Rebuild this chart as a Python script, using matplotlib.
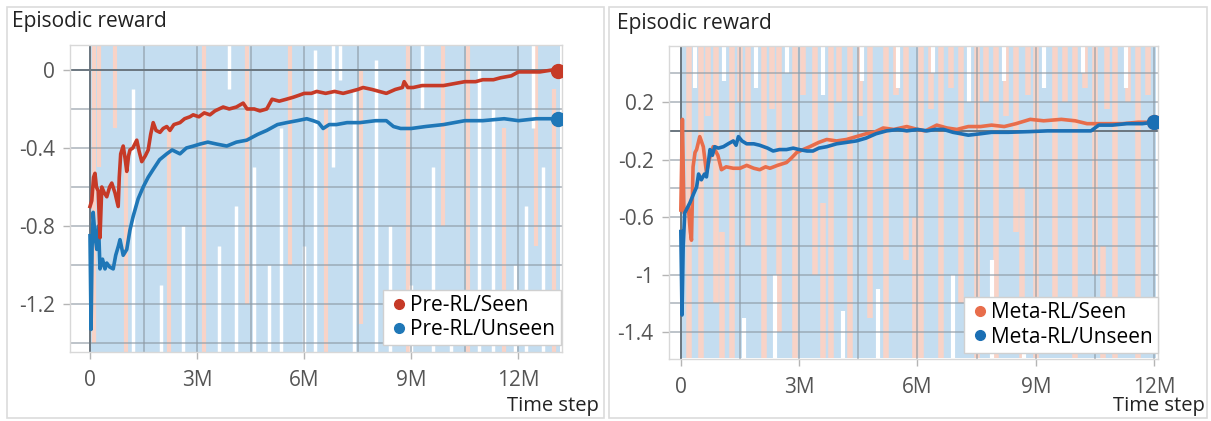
import numpy as np
import matplotlib
matplotlib.use("Agg")
import matplotlib.pyplot as plt
from matplotlib.patches import Rectangle

plt.rcParams['font.family'] = ['Open Sans', 'DejaVu Sans']

# ---- smoothed curves (x in millions of steps, episodic reward) ----
pre_seen = [(0.0,-0.70),(0.05,-0.67),(0.1,-0.55),(0.14,-0.53),(0.18,-0.60),(0.23,-0.62),(0.28,-0.86),
            (0.33,-0.60),(0.4,-0.63),(0.47,-0.65),(0.55,-0.60),(0.61,-0.58),(0.7,-0.63),(0.79,-0.70),
            (0.82,-0.55),(0.86,-0.43),(0.93,-0.39),(0.98,-0.45),(1.03,-0.52),(1.08,-0.44),(1.12,-0.41),
            (1.2,-0.40),(1.31,-0.36),(1.38,-0.42),(1.45,-0.47),(1.55,-0.44),(1.63,-0.41),(1.7,-0.33),
            (1.77,-0.27),(1.85,-0.31),(1.96,-0.32),(2.05,-0.30),(2.15,-0.29),(2.24,-0.31),(2.35,-0.28),
            (2.52,-0.27),(2.65,-0.25),(2.8,-0.24),(2.89,-0.23),(3.05,-0.24),(3.2,-0.22),(3.36,-0.23),
            (3.5,-0.21),(3.73,-0.19),(3.9,-0.20),(4.1,-0.19),(4.29,-0.17),(4.4,-0.20),(4.6,-0.20),
            (4.76,-0.21),(4.95,-0.20),(5.1,-0.15),(5.3,-0.16),(5.5,-0.15),(5.69,-0.14),(5.85,-0.13),
            (6.0,-0.12),(6.2,-0.12),(6.35,-0.11),(6.6,-0.12),(6.85,-0.11),(7.09,-0.12),(7.3,-0.11),
            (7.5,-0.10),(7.65,-0.09),(7.9,-0.10),(8.1,-0.11),(8.3,-0.12),(8.55,-0.10),(8.75,-0.09),
            (8.8,-0.06),(8.9,-0.09),(9.05,-0.09),(9.3,-0.08),(9.6,-0.08),(9.9,-0.08),(10.2,-0.07),
            (10.5,-0.06),(10.8,-0.06),(11.0,-0.05),(11.3,-0.05),(11.5,-0.04),(11.8,-0.03),(12.0,-0.01),
            (12.3,-0.01),(12.6,-0.01),(12.95,0.0),(13.1,-0.005)]
pre_unseen = [(0.0,-0.85),(0.03,-1.33),(0.06,-0.90),(0.09,-0.73),(0.14,-0.85),(0.19,-0.92),(0.24,-0.80),
              (0.28,-1.02),(0.35,-0.97),(0.42,-1.02),(0.47,-0.99),(0.55,-1.01),(0.65,-1.02),(0.72,-0.95),
              (0.8,-0.90),(0.84,-0.87),(0.93,-0.95),(1.03,-0.92),(1.12,-0.82),(1.21,-0.75),(1.35,-0.66),
              (1.49,-0.60),(1.63,-0.55),(1.77,-0.51),(1.95,-0.46),(2.15,-0.43),(2.3,-0.41),(2.52,-0.43),
              (2.7,-0.40),(2.9,-0.39),(3.08,-0.38),(3.3,-0.37),(3.55,-0.38),(3.83,-0.39),(4.1,-0.37),
              (4.39,-0.36),(4.7,-0.33),(4.95,-0.31),(5.25,-0.28),(5.51,-0.27),(5.8,-0.26),(6.07,-0.25),
              (6.25,-0.26),(6.4,-0.27),(6.53,-0.30),(6.7,-0.28),(6.9,-0.28),(7.2,-0.27),(7.56,-0.27),
              (8.0,-0.26),(8.3,-0.26),(8.5,-0.29),(8.7,-0.30),(9.0,-0.30),(9.4,-0.29),(9.9,-0.28),
              (10.2,-0.27),(10.5,-0.26),(11.0,-0.26),(11.6,-0.25),(12.0,-0.26),(12.5,-0.25),
              (12.95,-0.25),(13.1,-0.25)]
meta_seen = [(0.0,-0.55),(0.04,0.08),(0.08,-0.57),(0.14,-0.55),(0.19,-0.53),(0.24,-0.70),(0.27,-0.76),
             (0.31,-0.25),(0.36,-0.15),(0.40,-0.13),(0.48,-0.04),(0.57,-0.11),(0.65,-0.29),(0.72,-0.20),
             (0.82,-0.11),(0.94,-0.17),(1.03,-0.27),(1.15,-0.25),(1.33,-0.26),(1.5,-0.26),(1.67,-0.24),
             (1.85,-0.26),(2.0,-0.27),(2.15,-0.25),(2.26,-0.26),(2.45,-0.24),(2.68,-0.22),(2.8,-0.19),
             (2.94,-0.15),(3.1,-0.13),(3.27,-0.11),(3.5,-0.08),(3.7,-0.06),(3.95,-0.07),(4.2,-0.06),
             (4.45,-0.04),(4.7,-0.02),(4.9,-0.01),(5.13,0.02),(5.4,0.01),(5.73,0.03),(6.0,0.01),
             (6.2,0.0),(6.49,0.04),(6.75,0.02),(7.0,0.01),(7.29,0.03),(7.6,0.03),(7.88,0.04),(8.2,0.03),
             (8.5,0.05),(8.86,0.08),(9.2,0.07),(9.65,0.08),(10.0,0.07),(10.3,0.05),(10.8,0.05),
             (11.2,0.05),(11.6,0.06),(12.0,0.06)]
meta_unseen = [(0.0,-0.70),(0.03,-1.28),(0.06,-0.80),(0.1,-0.57),(0.23,-0.50),(0.32,-0.44),(0.40,-0.39),
               (0.45,-0.30),(0.52,-0.34),(0.6,-0.30),(0.65,-0.32),(0.74,-0.13),(0.8,-0.17),(0.86,-0.11),
               (0.95,-0.12),(1.08,-0.11),(1.2,-0.09),(1.33,-0.07),(1.4,-0.10),(1.46,-0.04),(1.55,-0.07),
               (1.67,-0.09),(1.85,-0.09),(2.0,-0.10),(2.2,-0.12),(2.34,-0.14),(2.5,-0.13),(2.68,-0.13),
               (2.85,-0.12),(3.0,-0.13),(3.2,-0.14),(3.35,-0.14),(3.5,-0.12),(3.7,-0.11),(3.95,-0.09),
               (4.2,-0.08),(4.45,-0.07),(4.7,-0.05),(4.95,-0.02),(5.22,0.0),(5.5,0.01),(5.73,0.0),
               (6.0,0.01),(6.24,0.0),(6.45,0.01),(6.66,0.01),(6.9,-0.01),(7.1,-0.02),(7.29,-0.03),
               (7.6,-0.02),(7.88,-0.01),(8.3,-0.01),(8.86,-0.005),(9.3,0.0),(9.8,0.0),(10.4,0.0),
               (10.6,0.04),(10.95,0.04),(11.3,0.05),(11.7,0.05),(12.0,0.06)]

# ---- raw (unsmoothed) traces, read as vertical streaks: (x, low, high) ----
pre_raw_extent = (0.0, 13.15, -1.45, 0.13)
pre_raw_white = [(1.2,-1.45,-0.1),(2.6,-1.45,-0.8),(3.6,-1.45,-0.9),(4.1,-1.45,-0.7),(4.6,-1.45,-0.5),
                 (5.35,-1.45,-0.3),(6.0,-1.45,-0.9),(6.3,-1.45,0.1),(7.4,-1.45,-0.1),(8.0,-1.45,0.05),
                 (8.4,-1.45,-0.8),(9.6,-1.45,-0.5),(10.1,-1.45,-1.2),(10.9,-1.45,0.0),(11.3,-1.45,-0.2),
                 (11.9,-1.45,-1.0),(12.7,-1.45,-0.5),(6.8,-0.5,0.13),(9.3,-0.2,0.13),(12.4,-0.3,0.13),
                 (3.9,-0.1,0.13),(7.0,-0.05,0.13),(2.0,-1.45,-1.1),(5.0,-1.45,-1.0),(9.0,-1.45,-1.1),
                 (12.2,-1.45,-0.7)]
pre_raw_pink = [(0.1,-1.4,0.13),(0.25,-0.5,0.13),(0.7,-0.3,0.13),(1.0,-1.45,-0.5),(2.2,-1.45,-0.3),
                (3.2,-1.45,0.13),(4.4,-1.2,0.13),(5.6,-1.0,0.13),(6.6,-1.45,-0.2),(7.6,-1.3,0.0),
                (8.9,-1.45,0.13),(9.9,-0.8,0.13),(10.6,-1.45,0.13),(11.6,-1.45,-0.3),(12.5,-0.9,0.13),
                (13.0,-1.45,-0.1)]
meta_raw_extent = (0.0, 12.05, -1.58, 0.59)
meta_raw_pink = [(0.2,-1.58,0.59),(0.5,-1.58,0.59),(0.9,-1.2,0.59),(1.3,-1.58,0.59),(1.7,-0.8,0.59),
                 (2.1,-1.58,0.59),(2.5,-1.4,0.59),(2.9,-1.58,0.59),(3.4,-1.0,0.59),(3.8,-1.58,0.59),
                 (4.3,-1.58,0.59),(4.8,-1.3,0.59),(5.2,-1.58,0.59),(5.7,-0.9,0.59),(6.1,-1.58,0.59),
                 (6.6,-1.58,0.59),(7.1,-1.2,0.59),(7.5,-1.58,0.59),(8.0,-1.58,0.59),(8.5,-0.7,0.59),
                 (9.0,-1.58,0.59),(9.5,-1.4,0.59),(10.0,-1.58,0.59),(10.5,-1.0,0.59),(11.0,-1.58,0.59),
                 (11.6,-1.58,0.59),(0.7,0.1,0.59),(1.5,0.2,0.59),(2.3,0.15,0.59),(3.1,0.25,0.59),
                 (4.0,0.2,0.59),(4.55,0.1,0.59),(5.45,0.25,0.59),(6.35,0.15,0.59),(6.85,0.3,0.59),
                 (7.75,0.2,0.59),(8.25,0.1,0.59),(8.8,0.25,0.59),(9.75,0.2,0.59),(10.25,0.3,0.59),
                 (10.8,0.15,0.59),(11.35,0.2,0.59),(11.85,0.25,0.59),(1.05,-1.58,-0.7),
                 (3.6,-1.58,-0.5),(5.95,-1.58,-0.6),(8.65,-1.58,-0.4),(10.7,-1.58,-0.8)]
meta_raw_white = [(0.35,0.3,0.59),(1.1,0.35,0.59),(1.9,0.3,0.59),(2.7,0.4,0.59),(3.6,0.25,0.59),
                  (4.6,0.35,0.59),(5.5,0.3,0.59),(6.4,0.4,0.59),(7.3,0.2,0.59),(8.2,0.35,0.59),
                  (9.2,0.3,0.59),(10.2,0.4,0.59),(11.3,0.3,0.59),(5.0,-1.58,-1.1),(8.7,-1.58,-1.2),
                  (1.6,-1.58,-1.3),(6.9,-1.58,-1.0),(2.4,-1.58,-1.0),(4.1,-1.58,-1.25),
                  (7.9,-1.58,-0.9)]

x_ticks = [0, 3, 6, 9, 12]
x_labels = ['0', '3M', '6M', '9M', '12M']
pre_yticks = [0, -0.4, -0.8, -1.2]
meta_yticks = [0.2, -0.2, -0.6, -1, -1.4]

raw_blue = '#c4ddf0'
raw_pink = '#f8d3c7'
grid_c = '#8e9aa4'
tick_c = '#555555'

fig = plt.figure(figsize=(12.11, 4.21), dpi=100)
W, H = 1211.0, 421.0

# panel frames
for x0, x1 in [(7, 604), (609, 1207)]:
    fig.patches.append(Rectangle((x0 / W, 1 - 418 / H), (x1 - x0) / W, 411 / H,
                                 transform=fig.transFigure, fill=False,
                                 edgecolor='#dcdcdc', linewidth=1.2))


def setup(ax, xlim, ylim, yticks, ygrid, xgrid):
    ax.set_xlim(*xlim)
    ax.set_ylim(*ylim)
    ax.set_xticks(x_ticks)
    ax.set_xticklabels(x_labels)
    ax.set_yticks(yticks)
    ax.set_yticklabels([('%g' % v) for v in yticks])
    for s in ax.spines.values():
        s.set_color('#d8d8d8')
        s.set_linewidth(1.0)
    ax.tick_params(axis='both', length=5, width=1.0, color='#b5b5b5',
                   labelsize=15, labelcolor=tick_c)
    ax.tick_params(axis='x', pad=8)
    ax.tick_params(axis='y', pad=6)
    for g in ygrid:
        ax.axhline(g, color=grid_c, lw=1.1, alpha=0.75, zorder=2)
    for g in xgrid:
        ax.axvline(g, color=grid_c, lw=1.1, alpha=0.75, zorder=2)
    ax.axhline(0, color='#6a767f', lw=1.4, zorder=2.1)
    ax.axvline(0, color='#6a767f', lw=1.4, zorder=2.1)


def draw_raw(ax, extent, pinks, whites, lw_p, lw_w):
    x0, x1, y0, y1 = extent
    ax.fill_between([x0, x1], [y0, y0], [y1, y1], color=raw_blue, lw=0, zorder=1)
    for x, lo, hi in pinks:
        ax.vlines(x, lo, hi, color=raw_pink, lw=lw_p, zorder=1.2)
    for x, lo, hi in whites:
        ax.vlines(x, lo, hi, color='white', lw=lw_w, zorder=1.3)


# ---- left: Pre-RL ----
ax1 = fig.add_axes([70 / W, 1 - 352 / H, 492 / W, 307 / H])
setup(ax1, (-0.56, 13.22), (-1.446, 0.128), pre_yticks,
      [-1.4, -1.2, -1.0, -0.8, -0.6, -0.4, -0.2], np.arange(1.5, 13.5, 1.5))
draw_raw(ax1, pre_raw_extent, pre_raw_pink, pre_raw_white, 3, 2.5)
red, blue1 = '#c63a27', '#1f77b7'
ps = np.array(pre_seen).T
pu = np.array(pre_unseen).T
ax1.plot(pu[0], pu[1], color=blue1, lw=2.6, zorder=3)
ax1.plot(ps[0], ps[1], color=red, lw=2.6, zorder=3)
ax1.plot(ps[0][-1], ps[1][-1], 'o', color=red, ms=10, zorder=4)
ax1.plot(pu[0][-1], pu[1][-1], 'o', color=blue1, ms=10, zorder=4)
h1 = [plt.Line2D([], [], marker='o', ls='', color=red, ms=7),
      plt.Line2D([], [], marker='o', ls='', color=blue1, ms=7)]
leg1 = ax1.legend(h1, ['Pre-RL/Seen', 'Pre-RL/Unseen'], loc='lower right',
                  bbox_to_anchor=(0.997, 0.022), borderaxespad=0, fontsize=15,
                  frameon=True, fancybox=False, edgecolor='#d0d0d0', framealpha=1,
                  handletextpad=0.05, handlelength=1.0, labelspacing=0.15,
                  borderpad=0.25)
leg1.set_zorder(5)
fig.text(12 / W, 1 - 21 / H, 'Episodic reward', fontsize=15, color='#222222',
         ha='left', va='center')
fig.text(599 / W, 1 - 406 / H, 'Time step', fontsize=14.5, color='#222222',
         ha='right', va='center')

# ---- right: Meta-RL ----
ax2 = fig.add_axes([669 / W, 1 - 359 / H, 489 / W, 313 / H])
setup(ax2, (-0.30, 12.1), (-1.586, 0.59), meta_yticks,
      [-1.4, -1.2, -1.0, -0.8, -0.6, -0.4, -0.2, 0.2, 0.4], np.arange(1.5, 12.5, 1.5))
draw_raw(ax2, meta_raw_extent, meta_raw_pink, meta_raw_white, 4, 3)
orange, blue2 = '#e86d4b', '#1b6fb4'
ms_ = np.array(meta_seen).T
mu = np.array(meta_unseen).T
ax2.plot(ms_[0], ms_[1], color=orange, lw=2.6, zorder=3)
ax2.plot(mu[0], mu[1], color=blue2, lw=2.6, zorder=3)
ax2.plot(ms_[0][-1], ms_[1][-1], 'o', color=orange, ms=10, zorder=4)
ax2.plot(mu[0][-1], mu[1][-1], 'o', color=blue2, ms=10, zorder=4)
h2 = [plt.Line2D([], [], marker='o', ls='', color=orange, ms=7),
      plt.Line2D([], [], marker='o', ls='', color=blue2, ms=7)]
leg2 = ax2.legend(h2, ['Meta-RL/Seen', 'Meta-RL/Unseen'], loc='lower right',
                  bbox_to_anchor=(1.0, 0.02), borderaxespad=0, fontsize=15,
                  frameon=True, fancybox=False, edgecolor='#d0d0d0', framealpha=1,
                  handletextpad=0.05, handlelength=1.0, labelspacing=0.15,
                  borderpad=0.25)
leg2.set_zorder(5)
fig.text(617 / W, 1 - 24 / H, 'Episodic reward', fontsize=15, color='#222222',
         ha='left', va='center')
fig.text(1205 / W, 1 - 406 / H, 'Time step', fontsize=14.5, color='#222222',
         ha='right', va='center')

fig.savefig('out.png', dpi=100)
